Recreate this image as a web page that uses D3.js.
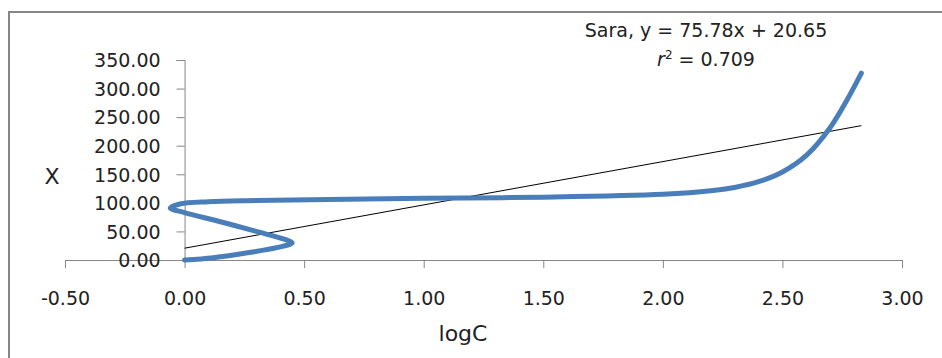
<!DOCTYPE html>
<html>
<head>
<meta charset="utf-8">
<script src="https://cdn.jsdelivr.net/npm/d3@7"></script>
<style>
  body { margin: 0; background: #fff; }
  text { font-family: "DejaVu Sans", sans-serif; fill: #222; }
</style>
</head>
<body>
<script>
// tick values
var xTicks = [-0.5, 0, 0.5, 1, 1.5, 2, 2.5, 3];
var yTicks = [0, 50, 100, 150, 200, 250, 300, 350];

// Sara curve (logC, X)
var logC = [0, 0.12, 0.27, 0.39, 0.45, 0.42, 0.3, 0.15, 0.0, -0.06, -0.02, 0.1, 0.3, 0.6, 1.0, 1.5, 2.0, 2.2, 2.3, 2.4, 2.5, 2.6, 2.7, 2.77, 2.83];
var xVals = [0, 4, 13, 22, 30, 36, 50, 67, 83, 91, 98, 102, 104, 106, 108, 110, 115, 121, 127, 137, 154, 183, 232, 280, 327];

// linear trend
var slope = 75.78, intercept = 20.65;
var trendX = [0, 2.83];

var fmt = function (d) { return d3.format('.2f')(d).replace('\u2212', '-'); };

window.onload = function () {
    var svg = d3.select('body').append('svg')
        .attr('width', 942)
        .attr('height', 358);

    var x = d3.scaleLinear().domain([-0.5, 3]).range([65, 902]),
        y = d3.scaleLinear().domain([0, 350]).range([260, 60]);

    /** chart frame, cut off right and bottom **/
    svg.append('rect')
        .attr('x', 9).attr('y', 12)
        .attr('width', 960).attr('height', 400)
        .attr('fill', 'none')
        .attr('stroke', '#868686')
        .attr('stroke-width', 2);

    /** axes **/
    var xAxis = svg.append('g')
        .attr('transform', 'translate(0,' + y(0) + ')')
        .call(d3.axisBottom(x).tickValues(xTicks).tickSize(8).tickPadding(24).tickFormat(fmt));

    var yAxis = svg.append('g')
        .attr('transform', 'translate(' + x(0) + ',0)')
        .call(d3.axisLeft(y).tickValues(yTicks).tickSize(8).tickPadding(16).tickFormat(fmt));

    [xAxis, yAxis].forEach(function (a) {
        a.select('.domain').attr('stroke', '#868686');
        a.selectAll('.tick line').attr('stroke', '#868686');
        a.selectAll('text').style('font-size', '19px').attr('fill', '#222');
    });
    yAxis.selectAll('text').attr('dy', '0.36em');

    /** trend line **/
    svg.append('line')
        .attr('x1', x(trendX[0])).attr('y1', y(slope * trendX[0] + intercept))
        .attr('x2', x(trendX[1])).attr('y2', y(slope * trendX[1] + intercept))
        .attr('stroke', '#000')
        .attr('stroke-width', 1);

    /** the curve **/
    var pts = logC.map(function (d, i) { return [d, xVals[i]]; });
    svg.append('path')
        .datum(pts)
        .attr('d', d3.line()
            .x(function (d) { return x(d[0]); })
            .y(function (d) { return y(d[1]); })
            .curve(d3.curveCatmullRom.alpha(0.5)))
        .attr('fill', 'none')
        .attr('stroke', '#4a7ebb')
        .attr('stroke-width', 5)
        .attr('stroke-linecap', 'round')
        .attr('stroke-linejoin', 'round');

    /** axis titles **/
    svg.append('text')
        .attr('x', 52).attr('y', 184)
        .attr('text-anchor', 'middle')
        .style('font-size', '22px')
        .text('X');

    svg.append('text')
        .attr('x', 463).attr('y', 341)
        .attr('text-anchor', 'middle')
        .style('font-size', '22px')
        .text('logC');

    /** equation label **/
    svg.append('text')
        .attr('x', 706).attr('y', 37)
        .attr('text-anchor', 'middle')
        .style('font-size', '19px')
        .text('Sara, y = 75.78x + 20.65');

    var r2 = svg.append('text')
        .attr('x', 706).attr('y', 66)
        .attr('text-anchor', 'middle')
        .style('font-size', '19px');
    r2.append('tspan').style('font-style', 'italic').text('r');
    r2.append('tspan').attr('dy', '-7').style('font-size', '12px').text('2');
    r2.append('tspan').attr('dy', '7').text(' = 0.709');
};
</script>
</body>
</html>
